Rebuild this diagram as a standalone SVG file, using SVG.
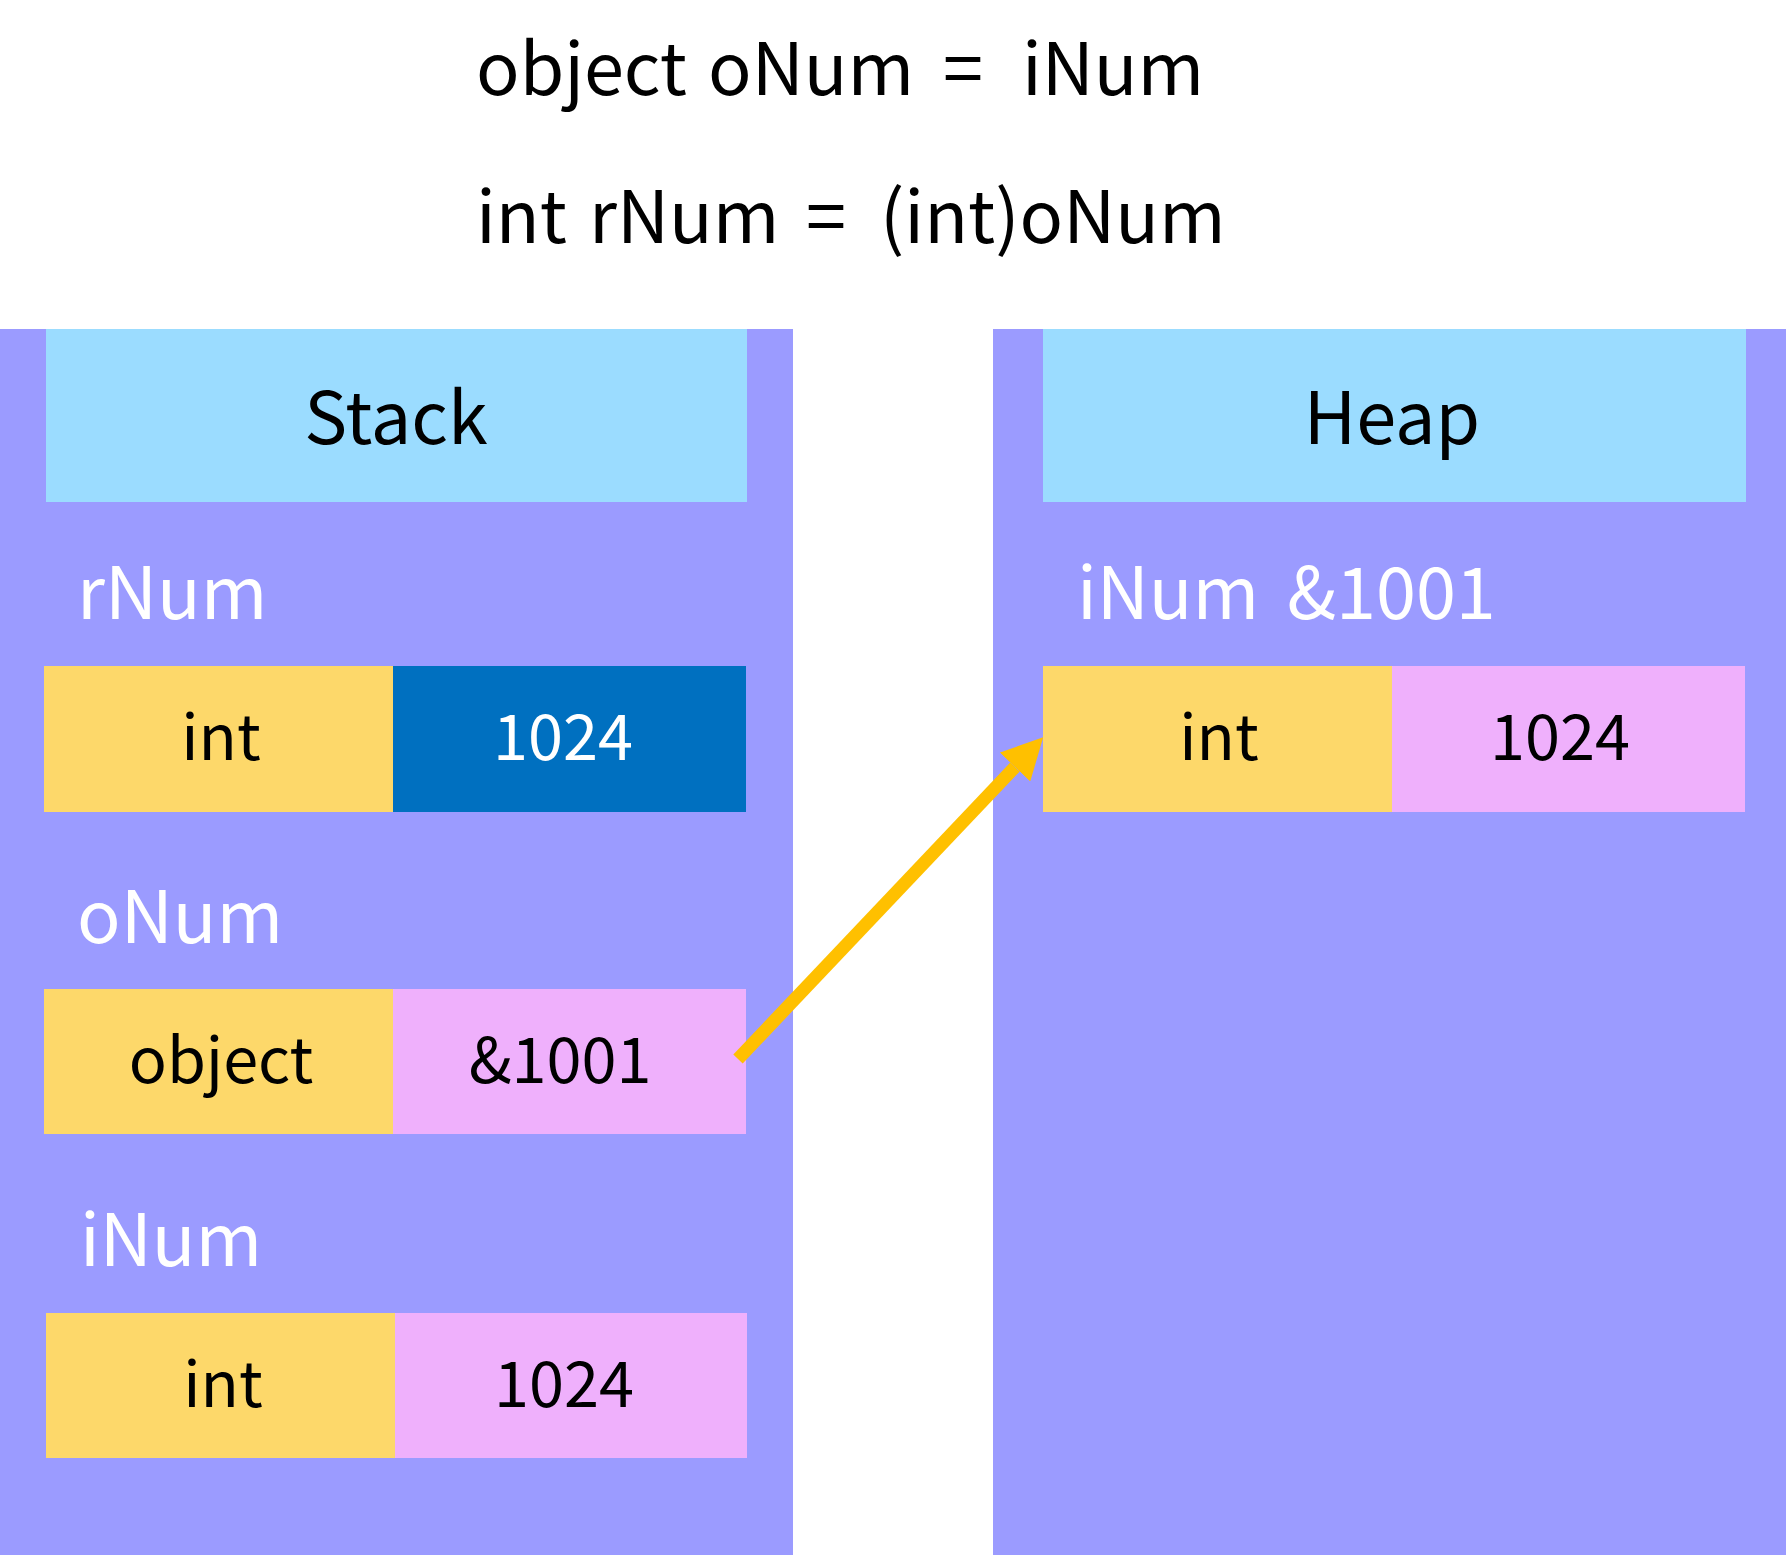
<svg xmlns="http://www.w3.org/2000/svg" width="1786" height="1555" viewBox="0 0 1786 1555">
<style>
  text { font-family: "Noto Sans CJK KR", "Noto Sans", sans-serif; font-size: 72px; }
  .title { font-size: 72px; }
  .cell { font-size: 63px; }
  .c { text-anchor: middle; }
  .dark { fill: #000000; }
  .light { fill: #FFFFFF; }
  .panel { fill: #9B9BFF; }
  .head { fill: #9BDCFF; }
  .type { fill: #FDD86A; }
  .val { fill: #EFB0FC; }
  .valdark { fill: #0070C0; }
</style>
<defs>
  <marker id="ah" markerUnits="userSpaceOnUse" viewBox="0 0 41 42" refX="0" refY="21" markerWidth="41" markerHeight="42" orient="auto">
    <path d="M0,0 L41,21 L0,42 z" fill="#FFC000"/>
  </marker>
</defs>
<rect width="1786" height="1555" fill="#FFFFFF"/>

<g id="code">
  <text y="95" class="title dark"><tspan x="476">object</tspan><tspan x="708">oNum</tspan><tspan x="943">=</tspan><tspan x="1022">iNum</tspan></text>
  <text y="243" class="title dark"><tspan x="476">int</tspan><tspan x="589">rNum</tspan><tspan x="806">=</tspan><tspan x="880">(int)oNum</tspan></text>
</g>

<g id="stack">
  <rect x="0" y="329" width="793" height="1226" class="panel"/>
  <rect x="46" y="329" width="701" height="173" class="head"/>
  <text x="396" y="444" class="c dark">Stack</text>
</g>

<g id="rNum">
  <text x="77" y="619" class="light">rNum</text>
  <rect x="44" y="666" width="349" height="146" class="type"/>
  <rect x="393" y="666" width="353" height="146" class="valdark"/>
  <text x="221" y="760" class="cell c dark">int</text>
  <text x="563" y="760" class="cell c light">1024</text>
</g>

<g id="oNum">
  <text x="77" y="943" class="light">oNum</text>
  <rect x="44" y="989" width="349" height="145" class="type"/>
  <rect x="393" y="989" width="353" height="145" class="val"/>
  <text x="221" y="1083" class="cell c dark">object</text>
  <text x="560" y="1083" class="cell c dark">&amp;1001</text>
</g>

<g id="iNum">
  <text x="80" y="1266" class="light">iNum</text>
  <rect x="46" y="1313" width="349" height="145" class="type"/>
  <rect x="395" y="1313" width="352" height="145" class="val"/>
  <text x="223" y="1407" class="cell c dark">int</text>
  <text x="564" y="1407" class="cell c dark">1024</text>
</g>

<g id="heap">
  <rect x="993" y="329" width="793" height="1226" class="panel"/>
  <rect x="1043" y="329" width="703" height="173" class="head"/>
  <text x="1392" y="444" class="c dark">Heap</text>
</g>

<g id="heapObj">
  <text y="619" class="light"><tspan x="1077">iNum</tspan><tspan x="1287">&amp;1001</tspan></text>
  <rect x="1043" y="666" width="349" height="146" class="type"/>
  <rect x="1392" y="666" width="353" height="146" class="val"/>
  <text x="1219" y="760" class="cell c dark">int</text>
  <text x="1560" y="760" class="cell c dark">1024</text>
</g>

<g id="connectors">
  <line x1="738" y1="1059" x2="1015" y2="767" stroke="#FFC000" stroke-width="13" marker-end="url(#ah)"/>
</g>
</svg>
